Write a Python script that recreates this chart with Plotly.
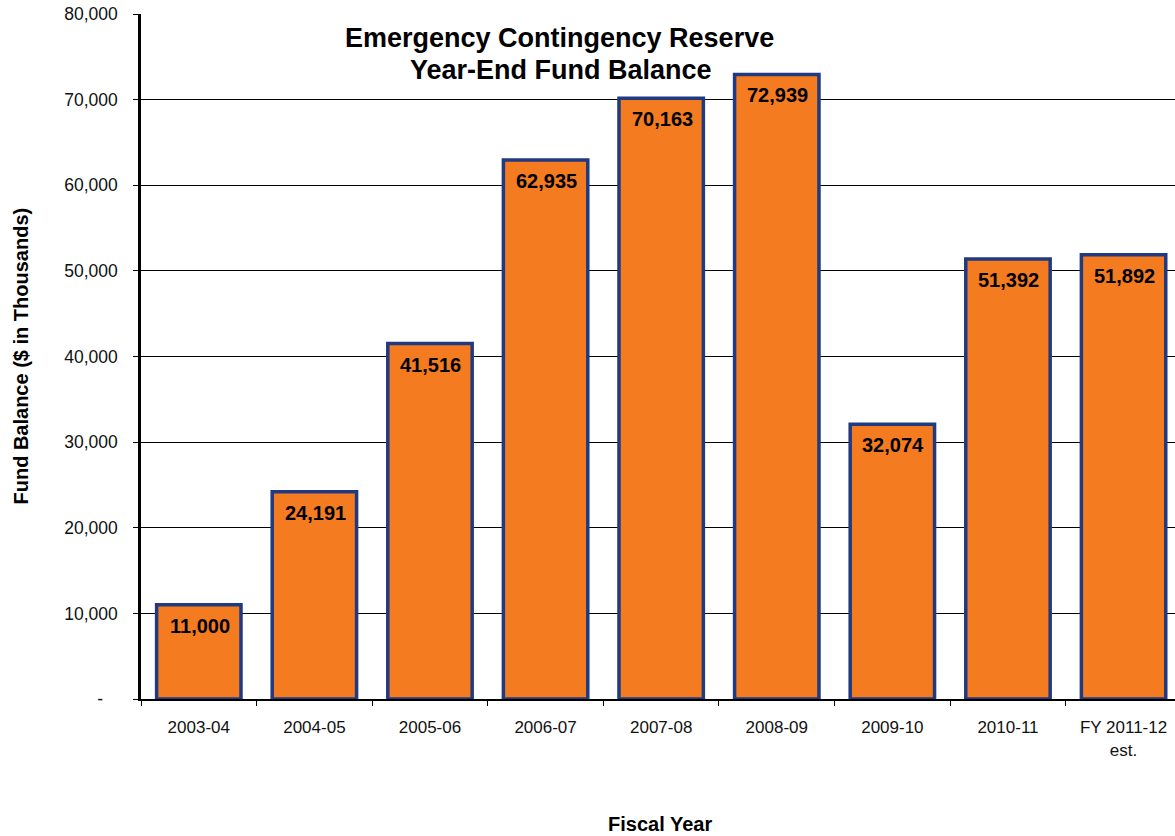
import plotly.graph_objects as go

categories = ["2003-04", "2004-05", "2005-06", "2006-07", "2007-08", "2008-09",
              "2009-10", "2010-11", "FY 2011-12<br>est."]
balances = [11000, 24191, 41516, 62935, 70163, 72939, 32074, 51392, 51892]
tick_vals = [0, 10000, 20000, 30000, 40000, 50000, 60000, 70000, 80000]
tick_text = ["-\u00a0\u00a0\u00a0", "10,000", "20,000", "30,000", "40,000", "50,000",
             "60,000", "70,000", "80,000"]

FONT = "Arial, Liberation Sans, sans-serif"

fig = go.Figure()
fig.add_trace(go.Bar(
    x=categories, y=balances,
    width=0.73,
    marker=dict(color="#F47B20", line=dict(color="#1F3A80", width=3.5)),
    cliponaxis=False,
))

annotations = []
for c, v in zip(categories, balances):
    annotations.append(dict(
        x=c, y=v, xref="x", yref="y", text=f"<b>{v:,}</b>", showarrow=False,
        xanchor="center", yanchor="middle", yshift=-21, xshift=1,
        font=dict(family=FONT, size=20, color="black"),
    ))

annotations += [
    dict(text="<b>Emergency Contingency Reserve</b>",
         xref="paper", yref="paper", x=0.405, y=0.965, xanchor="center", yanchor="middle",
         showarrow=False, font=dict(family=FONT, size=27, color="black")),
    dict(text="<b>Year-End Fund Balance</b>",
         xref="paper", yref="paper", x=0.406, y=0.918, xanchor="center", yanchor="middle",
         showarrow=False, font=dict(family=FONT, size=27, color="black")),
    dict(text="<b>Fund Balance ($ in Thousands)</b>", xref="paper", yref="paper",
         x=-0.117, y=0.5, xanchor="center", yanchor="middle", textangle=-90,
         showarrow=False, font=dict(family=FONT, size=20, color="black")),
    dict(text="<b>Fiscal Year</b>", xref="paper", yref="paper",
         x=0.502, y=-0.183, xanchor="center", yanchor="middle",
         showarrow=False, font=dict(family=FONT, size=20, color="black")),
]

fig.update_layout(
    width=1175, height=836,
    margin=dict(l=141, r=0, t=14, b=137),
    paper_bgcolor="white", plot_bgcolor="white",
    showlegend=False,
    font=dict(family=FONT, color="black"),
    xaxis=dict(
        type="category",
        range=[-0.5, 8.445],
        showline=True, linecolor="black", linewidth=2,
        ticks="outside", tickson="boundaries", ticklen=5, tickcolor="black", tickwidth=1,
        tickfont=dict(size=17, color="#111"),
        ticklabelstandoff=12,
        showgrid=False,
    ),
    yaxis=dict(
        range=[0, 80000],
        tickvals=tick_vals, ticktext=tick_text,
        showline=True, linecolor="black", linewidth=2.5,
        ticks="outside", ticklen=5, tickcolor="black",
        tickfont=dict(size=17.5, color="#111"),
        ticklabelstandoff=12,
        showgrid=True, gridcolor="black", gridwidth=1,
        zeroline=False,
    ),
    annotations=annotations,
)

fig.write_html("out.html")
